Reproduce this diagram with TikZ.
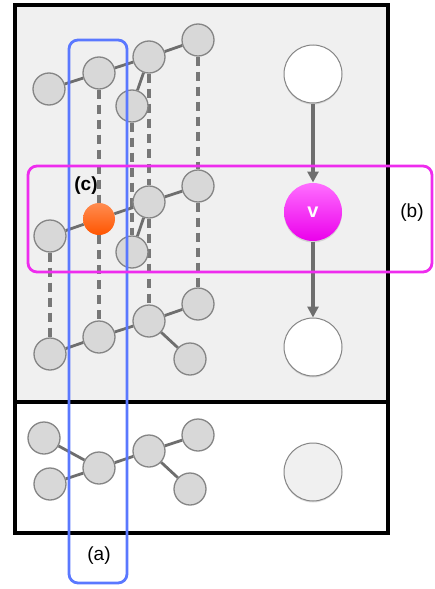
\documentclass[tikz,border=0pt]{standalone}
\usepackage{fontspec}
\setmainfont{Liberation Sans}
\usetikzlibrary{arrows.meta,shadows}
\definecolor{panelgray}{HTML}{F0F0F0}
\definecolor{nodegray}{HTML}{D8D8D8}
\definecolor{rimgray}{HTML}{858585}
\definecolor{edgegray}{HTML}{6E6E6E}
\definecolor{dashgray}{HTML}{777777}
\definecolor{boxblue}{HTML}{5A78FF}
\definecolor{boxmagenta}{HTML}{EE2CEE}
\pgfdeclarelayer{base}
\pgfdeclarelayer{wires}
\pgfsetlayers{base,wires,main}
\tikzset{
  vert/.style={circle, minimum size=32pt, inner sep=0pt, fill=nodegray, draw=rimgray, line width=1.3pt},
  hot/.style={circle, minimum size=32pt, inner sep=0pt,
    top color={rgb,255:red,255;green,140;blue,80}, bottom color={rgb,255:red,255;green,85;blue,0}, draw=none},
  bigvert/.style={circle, minimum size=58pt, inner sep=0pt, draw=rimgray, line width=1pt,
    drop shadow={shadow xshift=0pt, shadow yshift=-1.5pt, opacity=0.25}},
  edge/.style={draw=edgegray, line width=2.8pt},
  link/.style={draw=dashgray, line width=3.2pt, dash pattern=on 9pt off 6pt},
  flow/.style={draw=edgegray, line width=3.2pt, -{Triangle[length=11pt,width=11pt]}},
  region/.style={line width=2.8pt, rounded corners=9pt},
  tag/.style={font=\fontsize{19}{22}\selectfont, inner sep=0pt}
}
\begin{document}
\begin{tikzpicture}[x=1pt,y=-1pt]
\useasboundingbox (0,0) rectangle (434,589);

% panels
\begin{pgfonlayer}{base}
  \fill[panelgray] (15,5) rectangle (388,402);
  \fill[white] (15,402) rectangle (388,533);
\end{pgfonlayer}

% three layers of the upper graph
\node[vert] (a1) at (49,89) {};
\node[vert] (a2) at (99,73) {};
\node[vert] (a3) at (149,57) {};
\node[vert] (a4) at (198,40) {};
\node[vert] (a5) at (132,106) {};

\node[vert] (b1) at (50,236) {};
\node[hot]  (b2) at (99,219) {};
\node[vert] (b3) at (149,202) {};
\node[vert] (b4) at (198,186) {};
\node[vert] (b5) at (132,252) {};

\node[vert] (c1) at (50,354) {};
\node[vert] (c2) at (99,337) {};
\node[vert] (c3) at (149,321) {};
\node[vert] (c4) at (198,304) {};
\node[vert] (c5) at (190,359) {};

% lower panel graph
\node[vert] (d1) at (44,438) {};
\node[vert] (d2) at (50,484) {};
\node[vert] (d3) at (99,468) {};
\node[vert] (d4) at (149,451) {};
\node[vert] (d5) at (198,435) {};
\node[vert] (d6) at (190,489) {};

\begin{pgfonlayer}{wires}
  % dashed links between layers
  \path[link] (a2) -- (b2) (b2) -- (c2);
  \path[link] (a3) -- (b3) (b3) -- (c3);
  \path[link] (a4) -- (b4) (b4) -- (c4);
  \path[link] (a5) -- (b5);
  \path[link] (b1) -- (c1);
  % edges within each layer
  \path[edge] (a1) -- (a2) (a2) -- (a3) (a3) -- (a4) (a3) -- (a5);
  \path[edge] (b1) -- (b2) (b2) -- (b3) (b3) -- (b4) (b3) -- (b5);
  \path[edge] (c1) -- (c2) (c2) -- (c3) (c3) -- (c4) (c3) -- (c5);
  \path[edge] (d1) -- (d3) (d2) -- (d3) (d3) -- (d4) (d4) -- (d5) (d4) -- (d6);
\end{pgfonlayer}

% frame
\draw[line width=3.5pt] (15,5) rectangle (388,533);
\draw[line width=3.5pt] (15,402) -- (388,402);

% right column
\node[bigvert, fill=white] (top) at (313,74) {};
\node[bigvert, draw=none, top color={rgb,255:red,255;green,110;blue,255},
      bottom color={rgb,255:red,235;green,0;blue,235}] (v) at (313,212)
  {\color{white}\bfseries\fontsize{20}{22}\selectfont v};
\node[bigvert, fill=white] (bot) at (313,347) {};
\node[bigvert, fill=panelgray] (low) at (313,472) {};
\path[flow] (top) -- (v);
\path[flow] (v) -- (bot);

% highlighted regions
\draw[region, boxblue] (69,40) rectangle (127,583);
\draw[region, boxmagenta] (28,166) rectangle (432,272);

\node[tag, font=\bfseries\fontsize{19}{22}\selectfont] (lc) at (86,186) {(c)};
\node[tag] (lb) at (412,213) {(b)};
\node[tag] (la) at (99,556) {(a)};
\end{tikzpicture}
\end{document}
